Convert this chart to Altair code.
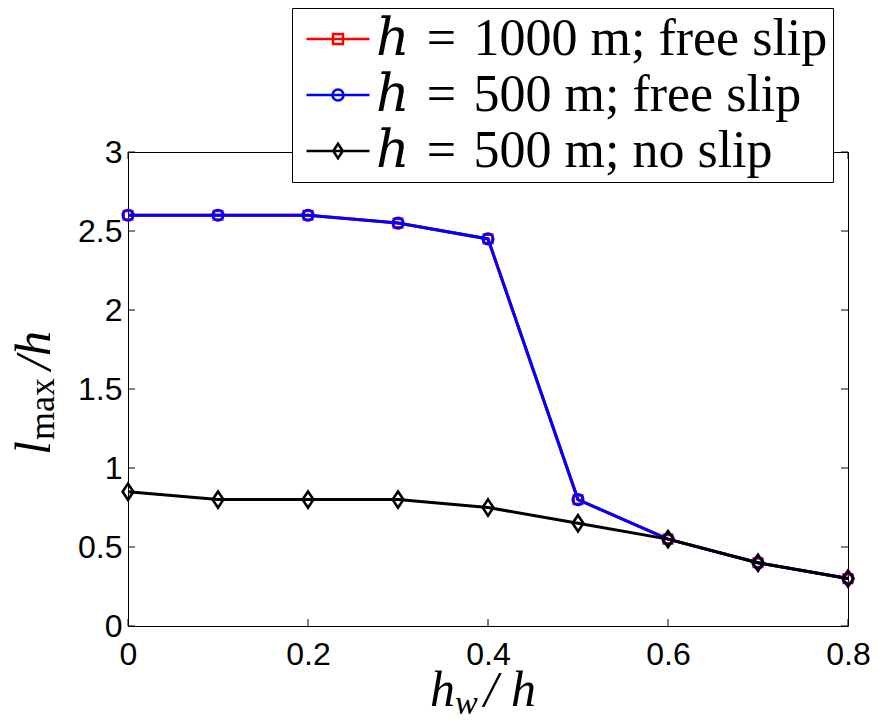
import altair as alt
import pandas as pd

# ---- data ----
hw = [0.0, 0.1, 0.2, 0.3, 0.4, 0.5, 0.6, 0.7, 0.8]
l_1000_free = [2.6, 2.6, 2.6, 2.55, 2.45, 0.8, 0.55, 0.4, 0.3]
l_500_free = [2.6, 2.6, 2.6, 2.55, 2.45, 0.8, 0.55, 0.4, 0.3]
l_500_noslip = [0.85, 0.8, 0.8, 0.8, 0.75, 0.65, 0.55, 0.4, 0.3]
series_labels = ["ℎ\u2004=\u20041000 m; free slip",
                 "ℎ\u2004=\u2004500 m; free slip",
                 "ℎ\u2004=\u2004500 m; no slip"]
series_colors = ["#ff0000", "#0000ff", "#000000"]
x_ticks = [0, 0.2, 0.4, 0.6, 0.8]
y_ticks = [0, 0.5, 1, 1.5, 2, 2.5, 3]

series_values = [l_1000_free, l_500_free, l_500_noslip]
rows = []
for name, vals in zip(series_labels, series_values):
    for xv, yv in zip(hw, vals):
        rows.append({"series": name, "x": xv, "y": yv})
df = pd.DataFrame(rows)

W, H = 720, 474
xs = alt.Scale(domain=[0, 0.8], nice=False, zero=False)
ys = alt.Scale(domain=[0, 3], nice=False, zero=False)
X_AX = alt.Axis(values=x_ticks, ticks=False, domain=False, grid=False, title=None,
                labelFont="Liberation Sans", labelFontSize=32, labelColor="black",
                labelPadding=13, format="~g", labelFlush=False)
Y_AX = alt.Axis(values=y_ticks, ticks=False, domain=False, grid=False, title=None,
                labelFont="Liberation Sans", labelFontSize=32, labelColor="black",
                labelPadding=6, format="~g", labelFlush=False)

def X(f="x"):
    return alt.X(f"{f}:Q", scale=xs, axis=X_AX)

def Y(f="y"):
    return alt.Y(f"{f}:Q", scale=ys, axis=Y_AX)

marker_shapes = ["square", "circle", "M0,-1.35L0.9,0L0,1.35L-0.9,0Z"]
marker_sizes = [72, 110, 144]

layers = []
for name, col, shp, sz in zip(series_labels, series_colors, marker_shapes, marker_sizes):
    sub = df[df["series"] == name]
    layers.append(alt.Chart(sub).mark_line(color=col, strokeWidth=3).encode(x=X(), y=Y()))
    layers.append(alt.Chart(sub).mark_point(color=col, shape=shp, size=sz, filled=False,
                                            strokeWidth=2.6, opacity=1).encode(x=X(), y=Y()))

# inward ticks on all four sides
xt = pd.DataFrame({"v": x_ticks})
yt = pd.DataFrame({"v": y_ticks})
layers.append(alt.Chart(xt).mark_rule(color="black", strokeWidth=1).encode(
    x=X("v"), y=alt.value(H), y2=alt.value(H - 7)))
layers.append(alt.Chart(xt).mark_rule(color="black", strokeWidth=1).encode(
    x=X("v"), y=alt.value(0), y2=alt.value(7)))
layers.append(alt.Chart(yt).mark_rule(color="black", strokeWidth=1).encode(
    y=Y("v"), x=alt.value(0), x2=alt.value(7)))
layers.append(alt.Chart(yt).mark_rule(color="black", strokeWidth=1).encode(
    y=Y("v"), x=alt.value(W), x2=alt.value(W - 7)))

# axis titles (math style)
one = alt.Data(values=[{}])
def txt(t, x, y, size, italic=True, angle=0):
    kw = dict(text=t, fontSize=size, font="Liberation Serif", color="black",
              align="left", baseline="alphabetic")
    if italic:
        kw["fontStyle"] = "italic"
    if angle:
        kw["angle"] = angle
    return alt.Chart(one).mark_text(**kw).encode(x=alt.value(x - 128), y=alt.value(y - 152))

layers.append(txt("h", 430, 706, 50))
layers.append(txt("w", 455, 714, 34))
layers.append(txt("/", 484, 706, 50))
layers.append(txt("h", 511, 706, 50))
layers.append(txt("l", 50, 455, 50, angle=270))
layers.append(txt("max", 54, 440, 36, italic=False, angle=270))
layers.append(txt("/h", 50, 370, 50, angle=270))

# legend (line + marker symbols)
legend_paths = [
    "M-6.3,0H6.3M-1,-1H1V1H-1Z",
    "M-6.3,0H6.3M1.1,0A1.1,1.1,0,1,1,-1.1,0A1.1,1.1,0,1,1,1.1,0Z",
    "M-6.3,0H6.3M0,-1.45L0.95,0L0,1.45L-0.95,0Z",
]
LEG = alt.Legend(title=None, orient="none", legendX=164, legendY=-144,
                 fillColor="white", strokeColor="black", padding=5, rowPadding=4,
                 symbolOffset=15, labelOffset=12,
                 labelFont="Liberation Serif, DejaVu Serif",
                 labelFontSize=52, labelColor="black", labelLimit=2000,
                 symbolSize=100, symbolStrokeWidth=2.5, symbolOpacity=1)
layers.append(
    alt.Chart(df).transform_filter("datum.x < -1")
    .mark_point(size=100, filled=False, strokeWidth=2.5, opacity=1)
    .encode(
        x=X(), y=Y(),
        color=alt.Color("series:N", scale=alt.Scale(domain=series_labels, range=series_colors), legend=LEG),
        shape=alt.Shape("series:N", scale=alt.Scale(domain=series_labels, range=legend_paths), legend=LEG),
    )
)

chart = alt.layer(*layers).properties(
    width=W, height=H,
    padding={"left": 128, "top": 152, "right": 30, "bottom": 95},
    autosize=alt.AutoSizeParams(type="none"),
    background="white",
).configure_view(stroke="black", strokeWidth=1)

chart.save("out.html", embed_options={"renderer": "svg", "actions": False})
